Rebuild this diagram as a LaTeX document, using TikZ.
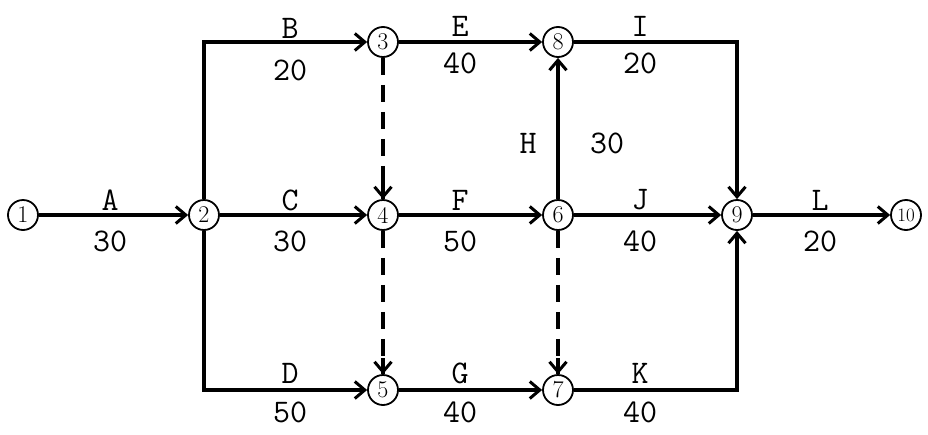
\documentclass[tikz,border=0pt]{standalone}
\usetikzlibrary{arrows.meta,calc}
\begin{document}
\begin{tikzpicture}[x=1pt,y=-1pt,
  ev/.style={circle,draw,line width=1.8pt,minimum size=30pt,inner sep=0pt,font=\fontsize{24}{24}\selectfont},
  act/.style={line width=3.6pt,-{Straight Barb[length=10pt,width=17pt,line width=3pt]}},
  dum/.style={line width=3.6pt,dash pattern=on 17pt off 10pt},
  lab/.style={font=\fontsize{33}{33}\ttfamily,inner sep=0pt}]
\fill[white] (0,0) rectangle (928,434);
\useasboundingbox (0,0) rectangle (928,434);
\node[ev] (n1) at (23,215) {1};
\node[ev] (n2) at (204,215) {2};
\node[ev] (n3) at (383,42) {3};
\node[ev] (n4) at (383,215) {4};
\node[ev] (n5) at (383,390) {5};
\node[ev] (n6) at (558,215) {6};
\node[ev] (n7) at (558,390) {7};
\node[ev] (n8) at (558,42) {8};
\node[ev] (n9) at (737,215) {9};
\node[ev,font=\fontsize{19}{19}\selectfont] (n10) at (906,215) {\kern-1.5pt10\kern-1.5pt};
\draw[act] (n1) -- (n2);
\draw[act] (n2.north) |- (n3);
\draw[act] (n2) -- (n4);
\draw[act] (n2.south) |- (n5);
\draw[act] (n3) -- (n8);
\draw[dum] (n3) -- (n4);
\draw[act] ($(n4.north)+(0,-16)$) -- (n4);
\draw[act] (n4) -- (n6);
\draw[dum] (n4) -- (n5);
\draw[act] ($(n5.north)+(0,-16)$) -- (n5);
\draw[act] (n6) -- (n8);
\draw[act] (n6) -- (n9);
\draw[dum] (n6) -- (n7);
\draw[act] ($(n7.north)+(0,-16)$) -- (n7);
\draw[act] (n5) -- (n7);
\draw[act] (n8) -| (n9);
\draw[act] (n7) -| (n9);
\draw[act] (n9) -- (n10);
\node[lab] (lA) at (110,200) {A};
\node[lab] (dA) at (110,241) {30};
\node[lab] (lB) at (290,28) {B};
\node[lab] (dB) at (290,70) {20};
\node[lab] (lE) at (460,26) {E};
\node[lab] (dE) at (460,63) {40};
\node[lab] (lI) at (640,26) {I};
\node[lab] (dI) at (640,63) {20};
\node[lab] (lC) at (290,200) {C};
\node[lab] (dC) at (290,241) {30};
\node[lab] (lF) at (460,200) {F};
\node[lab] (dF) at (460,241) {50};
\node[lab] (lJ) at (640,200) {J};
\node[lab] (dJ) at (640,241) {40};
\node[lab] (lL) at (820,200) {L};
\node[lab] (dL) at (820,241) {20};
\node[lab] (lD) at (290,373) {D};
\node[lab] (dD) at (290,412) {50};
\node[lab] (lG) at (460,373) {G};
\node[lab] (dG) at (460,412) {40};
\node[lab] (lK) at (640,373) {K};
\node[lab] (dK) at (640,412) {40};
\node[lab] (lH) at (528,143) {H};
\node[lab] (dH) at (607,143) {30};
\end{tikzpicture}
\end{document}
